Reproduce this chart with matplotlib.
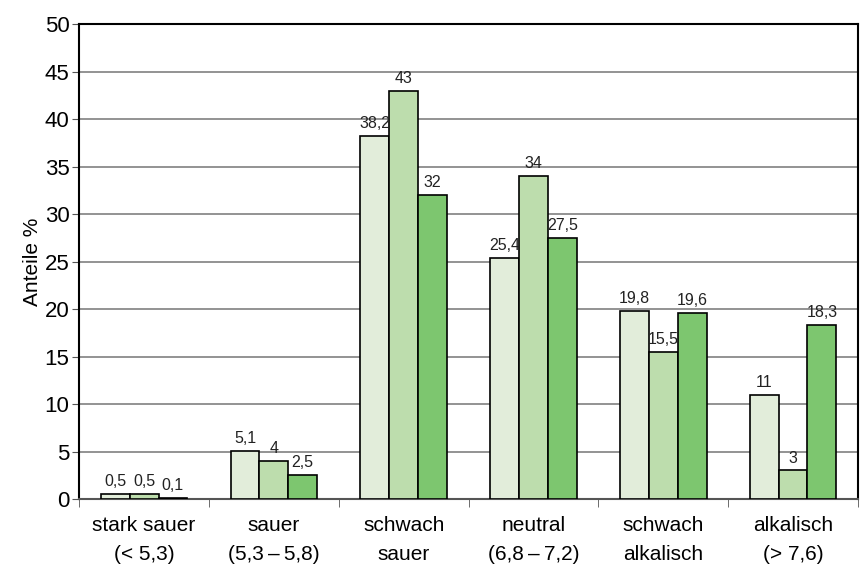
import matplotlib
matplotlib.use("Agg")
import matplotlib.pyplot as plt
import numpy as np

# categories and the three series (values in %)
categories = [
    "stark sauer\n(< 5,3)",
    "sauer\n(5,3\u2009\u2013\u20095,8)",
    "schwach\nsauer",
    "neutral\n(6,8\u2009\u2013\u20097,2)",
    "schwach\nalkalisch",
    "alkalisch\n(> 7,6)",
]
series_a = [0.5, 5.1, 38.2, 25.4, 19.8, 11]
series_b = [0.5, 4, 43, 34, 15.5, 3]
series_c = [0.1, 2.5, 32, 27.5, 19.6, 18.3]

colors = ["#E2EDDA", "#BDDDAD", "#7DC66F"]

plt.rcParams["font.family"] = ["Liberation Sans", "DejaVu Sans"]

fig = plt.figure(figsize=(8.61, 5.68), dpi=100)
ax = fig.add_axes([0.092, 0.1215, 0.9045, 0.836])

x = np.arange(len(categories))
w = 0.222
for i, (vals, col) in enumerate(zip([series_a, series_b, series_c], colors)):
    pos = x + (i - 1) * w
    ax.bar(pos, vals, width=w, color=col, edgecolor="black", linewidth=1.2, zorder=3)
    for p, v in zip(pos, vals):
        lbl = ("%g" % v).replace(".", ",")
        ax.text(p, v + 0.5, lbl, ha="center", va="bottom", fontsize=11.5, color="#222222", zorder=4)

ax.set_xlim(-0.5, len(categories) - 0.5)
ax.set_ylim(0, 50)
ax.set_yticks(np.arange(0, 51, 5))
ax.tick_params(axis="y", labelsize=16, length=5, pad=2, direction="out", color="#555555")
ax.yaxis.grid(True, color="#808080", linewidth=1.2, zorder=0)

# category labels centred, ticks at boundaries
ax.set_xticks(x)
ax.set_xticklabels(categories, fontsize=15, linespacing=1.7)
ax.tick_params(axis="x", length=0, pad=12)
ax.set_xticks(np.arange(-0.5, len(categories), 1), minor=True)
ax.tick_params(axis="x", which="minor", length=6, direction="out", color="#555555")

for s in ax.spines.values():
    s.set_color("black")
    s.set_linewidth(1.5)
ax.spines["bottom"].set_color("#555555")

ax.set_ylabel("Anteile %", fontsize=15, labelpad=2)

fig.savefig("out.png", dpi=100)
